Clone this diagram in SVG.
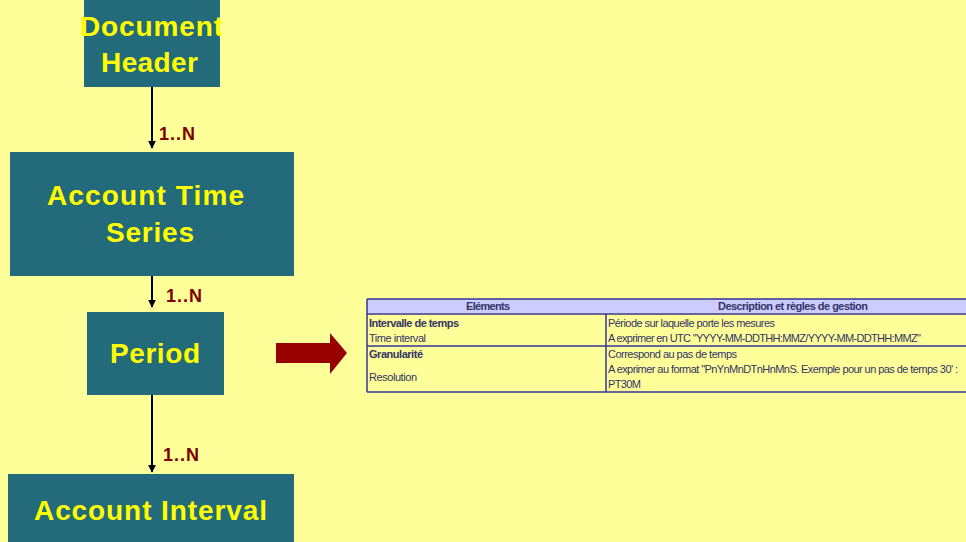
<svg xmlns="http://www.w3.org/2000/svg" width="966" height="542" viewBox="0 0 966 542">
<defs>
<style>
.box{fill:#236B7B}
.nt{font-family:"Liberation Sans",Arial,sans-serif;font-weight:bold;font-size:28px;fill:#FFFF00}
.card{font-family:"Liberation Sans",Arial,sans-serif;font-weight:bold;font-size:18px;fill:#800000}
.conn{stroke:#000;stroke-width:2;fill:none;marker-end:url(#ah)}
.tt{font-family:"Liberation Sans",Arial,sans-serif;font-size:11px;fill:#333366}
.tb{font-weight:bold}
.tl{stroke:#333399;stroke-width:1.5}
</style>
<marker id="ah" viewBox="0 0 10 10" refX="9" refY="5" markerWidth="4" markerHeight="4" orient="auto">
<path d="M0,0 L10,5 L0,10 z" fill="#000"/>
</marker>
</defs>
<rect width="966" height="542" fill="#FFFF99"/>

<g id="connectors">
<line class="conn" x1="152" y1="87" x2="152" y2="148"/>
<line class="conn" x1="152" y1="276" x2="152" y2="307"/>
<line class="conn" x1="152" y1="395" x2="152" y2="472"/>
<text class="card" x="159" y="140" textLength="36">1..N</text>
<text class="card" x="166" y="302" textLength="36">1..N</text>
<text class="card" x="163" y="461" textLength="36">1..N</text>
</g>

<g id="document-header">
<rect class="box" x="84" y="0" width="136" height="87"/>
<text class="nt" x="80" y="36" textLength="143">Document</text>
<text class="nt" x="101" y="72" textLength="97">Header</text>
</g>

<g id="account-time-series">
<rect class="box" x="10" y="152" width="284" height="124"/>
<text class="nt" x="47" y="205" textLength="197">Account Time</text>
<text class="nt" x="106" y="242" textLength="88">Series</text>
</g>

<g id="period">
<rect class="box" x="87" y="312" width="137" height="83"/>
<text class="nt" x="110" y="363" textLength="90">Period</text>
</g>

<g id="account-interval">
<rect class="box" x="8" y="474" width="286" height="70"/>
<text class="nt" x="34" y="520" textLength="233">Account Interval</text>
</g>

<g id="block-arrow">
<path d="M276,343 L330,343 L330,333 L347,353 L330,374 L330,363 L276,363 z" fill="#990000"/>
</g>

<g id="table">
<rect x="367" y="299" width="599" height="14" fill="#CCCCFF"/>
<line class="tl" x1="367" y1="299" x2="966" y2="299"/>
<line class="tl" x1="367" y1="314" x2="966" y2="314"/>
<line class="tl" x1="367" y1="346" x2="966" y2="346"/>
<line class="tl" x1="367" y1="392" x2="966" y2="392"/>
<line class="tl" x1="367" y1="299" x2="367" y2="392"/>
<line class="tl" x1="606" y1="314" x2="606" y2="392"/>
<text class="tt tb" x="466" y="310" textLength="44">Eléments</text>
<text class="tt tb" x="718" y="310" textLength="150">Description et règles de gestion</text>
<text class="tt tb" x="369" y="327" textLength="90">Intervalle de temps</text>
<text class="tt" x="369" y="342" textLength="57">Time interval</text>
<text class="tt tb" x="369" y="358" textLength="54">Granularité</text>
<text class="tt" x="369" y="381" textLength="48">Resolution</text>
<text class="tt" x="608" y="327" textLength="167">Période sur laquelle porte les mesures</text>
<text class="tt" x="608" y="342" textLength="313">A exprimer en UTC "YYYY-MM-DDTHH:MMZ/YYYY-MM-DDTHH:MMZ"</text>
<text class="tt" x="608" y="358" textLength="129">Correspond au pas de temps</text>
<text class="tt" x="608" y="373" textLength="350">A exprimer au format "PnYnMnDTnHnMnS. Exemple pour un pas de temps 30' :</text>
<text class="tt" x="608" y="388" textLength="33">PT30M</text>
</g>
</svg>
